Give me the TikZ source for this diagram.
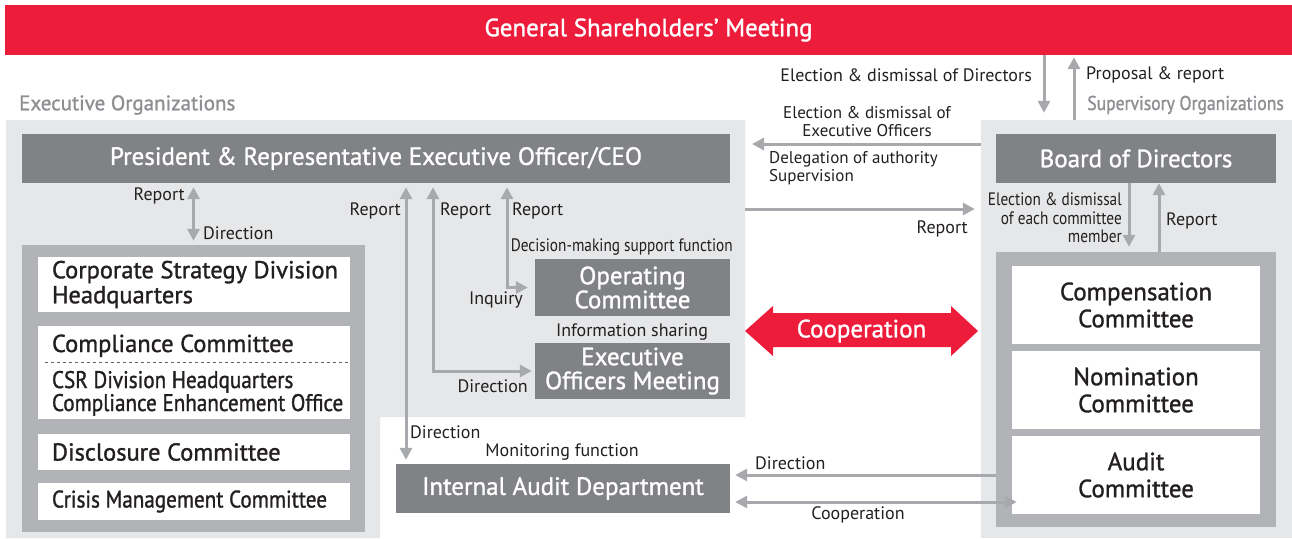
\documentclass[tikz,border=0pt]{standalone}
\usepackage{fontspec}
\setmainfont{PT Sans}
\newfontfamily\boxfont[FakeBold=1.2]{PT Sans}
\newfontfamily\condfont[FakeBold=1.2, FakeStretch=0.88]{PT Sans}
\newfontfamily\condlbl[FakeStretch=0.85]{PT Sans}
\usetikzlibrary{arrows.meta,positioning}

\definecolor{gsmred}{HTML}{EE1C3B}
\definecolor{boxgray}{HTML}{808285}
\definecolor{framegray}{HTML}{B1B3B6}
\definecolor{areagray}{HTML}{E6E7E8}
\definecolor{arrgray}{HTML}{A7A9AC}
\definecolor{titlegray}{HTML}{8D8F92}
\definecolor{inkgray}{HTML}{231F20}

\begin{document}
\begin{tikzpicture}[
    x=1pt, y=-1pt,
    darkbox/.style={rectangle, fill=boxgray, text=white, inner sep=0pt, align=center, font=\boxfont\fontsize{25}{24}\selectfont},
    whitebox/.style={rectangle, fill=white, text=inkgray, inner sep=0pt, align=center, font=\boxfont\fontsize{25}{27}\selectfont},
    leftbox/.style={rectangle, fill=white, inner sep=0pt, minimum width=312pt},
    boxtext/.style={inner sep=0pt, text=inkgray, align=left, font=\boxfont\fontsize{24.5}{25}\selectfont},
    condtext/.style={inner sep=0pt, text=inkgray, align=left, font=\condfont\fontsize{24}{24}\selectfont},
    frame/.style={rectangle, fill=framegray, inner sep=0pt},
    area/.style={rectangle, fill=areagray, inner sep=0pt},
    lbl/.style={inner sep=0pt, text=inkgray, font=\fontsize{18}{18.5}\selectfont},
    condlabel/.style={lbl, font=\condlbl\fontsize{18}{18.5}\selectfont},
    title/.style={inner sep=0pt, text=titlegray, font=\boxfont\fontsize{21}{22}\selectfont},
    arr/.style={draw=arrgray, line width=3pt, -{Triangle[length=12pt,width=12pt]}},
    arr2/.style={draw=arrgray, line width=3pt, {Triangle[length=12pt,width=12pt]}-{Triangle[length=12pt,width=12pt]}}
]
    \useasboundingbox (0,0) rectangle (1292,538);

    % background areas
    \fill[areagray] (6,120) -- (745,120) -- (745,417) -- (380,417) -- (380,538) -- (6,538) -- cycle;
    \coordinate (execE) at (745,120);
    \node[area, minimum width=311pt, minimum height=418pt] (sup) at (1136.5,329) {};

    \node[rectangle, fill=gsmred, text=white, inner sep=0pt, minimum width=1287pt, minimum height=50pt,
          font=\boxfont\fontsize{25}{26}\selectfont] (gsm) at (648.5,30) {General Shareholders’ Meeting};

    \node[title, anchor=west] (exectitle) at (19,105) {Executive Organizations};
    \node[title, anchor=east, font=\condfont\fontsize{20}{22}\selectfont] (suptitle) at (1284,105) {Supervisory Organizations};

    % executive side
    \node[darkbox, minimum width=708pt, minimum height=49pt] (ceo) at (376,158.5) {President \& Representative Executive Officer/CEO};

    \node[frame, minimum width=343pt, minimum height=287pt] (leftframe) at (193.5,388.5) {};
    \node[leftbox, minimum height=55pt] (corp) at (194,284.5) {};
    \node[leftbox, minimum height=93pt] (compl) at (194,372.5) {};
    \node[leftbox, minimum height=36pt] (disc) at (194,452) {};
    \node[leftbox, minimum height=37pt] (crisis) at (194,501.5) {};
    \node[boxtext, anchor=west] (corpT) at ([xshift=14pt]corp.west) {Corporate Strategy Division\\Headquarters};
    \node[boxtext, anchor=base west] (complA) at ([xshift=14pt]compl.west |- 0,352) {Compliance Committee};
    \node[condtext, anchor=base west] (complB) at ([xshift=14pt]compl.west |- 0,388) {CSR Division Headquarters};
    \node[condtext, anchor=base west] (complC) at ([xshift=14pt]compl.west |- 0,411) {Compliance Enhancement Office};
    \node[boxtext, anchor=west] (discT) at ([xshift=14pt]disc.west) {Disclosure Committee};
    \node[condtext, anchor=west] (crisisT) at ([xshift=14pt]crisis.west) {Crisis Management Committee};
    \draw[inkgray!70, line width=0.8pt, dash pattern=on 3pt off 3pt] (compl.west |- 0,362) ++(7,0) -- (compl.east |- 0,362) ++(-9,0);

    \node[darkbox, minimum width=195pt, minimum height=57pt] (opc) at (632.5,287.5) {Operating\\Committee};
    \node[darkbox, minimum width=195pt, minimum height=56pt] (eom) at (632.5,371) {Executive\\Officers Meeting};
    \node[darkbox, minimum width=334pt, minimum height=49pt] (iad) at (563,488.5) {Internal Audit Department};

    % supervisory side
    \node[darkbox, minimum width=280pt, minimum height=49pt] (bod) at (1136,158.5) {Board of Directors};
    \node[frame, minimum width=280pt, minimum height=275pt] (cframe) at (1136,389.5) {};
    \node[whitebox, minimum width=248pt, minimum height=78pt] (compc) at (1136,305) {Compensation\\Committee};
    \node[whitebox, minimum width=248pt, minimum height=78pt] (nomc) at (1136,390) {Nomination\\Committee};
    \node[whitebox, minimum width=248pt, minimum height=78pt] (audc) at (1136,475) {Audit\\Committee};

    % cooperation arrow
    \fill[gsmred] (745,331) -- (773,306) -- (773,313) -- (951,313) -- (951,306) -- (978,331)
        -- (951,356) -- (951,347) -- (773,347) -- (773,356) -- cycle;
    \node[text=white, inner sep=0pt, font=\boxfont\fontsize{25}{26}\selectfont] (coop) at (861.5,331) {Cooperation};

    % connectors
    \coordinate (colDown) at (1044,0);
    \coordinate (colUp) at (1074,0);
    \coordinate (rowDel) at (0,144);
    \coordinate (rowRep) at (0,209);
    \coordinate (colSel) at (1129,0);
    \coordinate (colRep) at (1159,0);
    \coordinate (col406) at (406,0);
    \coordinate (col433) at (433,0);
    \coordinate (col507) at (507,0);
    \coordinate (rowDir) at (0,475);
    \coordinate (rowCoop) at (0,502);

    \draw[arr, shorten >=7pt] (gsm.south -| colDown) -- (sup.north -| colDown);
    \draw[arr, shorten >=2pt] (sup.north -| colUp) -- (gsm.south -| colUp);
    \draw[arr, shorten >=7pt] (sup.west |- rowDel) -- (execE |- rowDel);
    \draw[arr, shorten >=6pt] (execE |- rowRep) -- (sup.west |- rowRep);
    \draw[arr, shorten >=5pt] (bod.south -| colSel) -- (cframe.north -| colSel);
    \draw[arr] (cframe.north -| colRep) -- (bod.south -| colRep);

    \draw[arr2, shorten <=4pt, shorten >=4pt] (leftframe.north |- ceo.south) -- (leftframe.north);
    \draw[arr2, shorten <=4pt, shorten >=4pt] (ceo.south -| col406) -- (iad.north -| col406);
    \draw[arr2, shorten <=3pt, shorten >=4pt] (eom.west) -| (ceo.south -| col433);
    \draw[arr2, shorten <=7pt, shorten >=4pt] (opc.west) -| (ceo.south -| col507);

    \draw[arr, shorten >=5pt] (cframe.west |- rowDir) -- (iad.east |- rowDir);
    \draw[arr2, shorten <=-5pt, shorten >=5pt] (audc.west |- rowCoop) -- (iad.east |- rowCoop);

    % labels
    \node[lbl, anchor=east] (lDirs) at (1032,75) {Election \& dismissal of Directors};
    \node[lbl, anchor=west] (lProp) at (1086,75) {Proposal \& report};
    \node[lbl, align=center, font=\fontsize{17}{18}\selectfont] (lElec) at (867,122) {Election \& dismissal of\\Executive Officers};
    \node[lbl, align=left, anchor=west, font=\fontsize{17}{18.5}\selectfont] (lDeleg) at (769,168) {Delegation of authority\\Supervision};
    \node[lbl, anchor=east] (lRepB) at (968,229) {Report};
    \node[condlabel, align=right, anchor=east] (lMemb) at (1122,218) {Election \& dismissal\\of each committee\\member};
    \node[lbl, anchor=west] (lRepC) at (1166,221) {Report};

    \node[lbl, anchor=east] (lRepL) at (185,196) {Report};
    \node[lbl, anchor=west] (lDirL) at (203,233) {Direction};
    \node[lbl, anchor=east] (lRep1) at (401,211) {Report};
    \node[lbl, anchor=west] (lRep2) at (440,211) {Report};
    \node[lbl, anchor=west] (lRep3) at (512,211) {Report};
    \node[condlabel, anchor=east] (lDecis) at (733,247) {Decision-making support function};
    \node[lbl, anchor=east] (lInq) at (523,300) {Inquiry};
    \node[lbl] (lInfo) at (632,332) {Information sharing};
    \node[lbl, anchor=east] (lDirE) at (528,386) {Direction};
    \node[lbl, anchor=west] (lDirA) at (410,432) {Direction};
    \node[lbl] (lMon) at (562,452) {Monitoring function};
    \node[lbl, anchor=west] (lDirR) at (755,463) {Direction};
    \node[lbl] (lCoop) at (858,515) {Cooperation};
\end{tikzpicture}
\end{document}
